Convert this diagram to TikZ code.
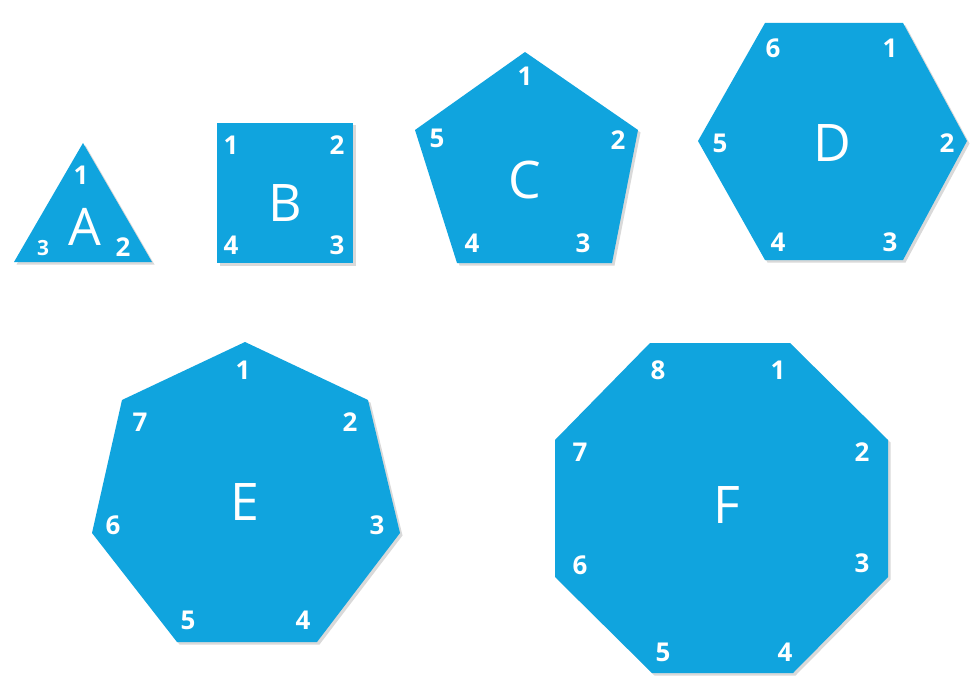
\documentclass[tikz,border=0pt]{standalone}
\usepackage{fontspec}
\setmainfont{Open Sans}
\usepackage{tikz}
\definecolor{tileblue}{RGB}{16,164,222}

\begin{document}
\begin{tikzpicture}[x=1bp,y=-1bp,
  tile/.style={fill=tileblue},
  tileshadow/.style={fill=black!15,xshift=2.5bp,yshift=-2.5bp},
  num/.style={text=white,font=\bfseries\fontsize{26}{26}\selectfont,inner sep=0pt},
  tilelabel/.style={text=white,font=\fontsize{52}{52}\selectfont,inner sep=0pt}]
  \useasboundingbox[fill=white] (0,0) rectangle (970,681);

  % A: triangle
  \fill[tileshadow] (83,143) -- (152,262) -- (14,262) -- cycle;
  \fill[tile] (83,143) -- (152,262) -- (14,262) -- cycle;
  \node[tilelabel] (A) at (85,227) {A};
  \node[num] (a1) at (81,175) {1};
  \node[num] (a2) at (123,247) {2};
  \node[num,font=\bfseries\fontsize{21}{21}\selectfont] (a3) at (43,248) {3};

  % B: square
  \fill[tileshadow] (217,123) rectangle (353,263);
  \fill[tile] (217,123) rectangle (353,263);
  \node[tilelabel] (B) at (285,203) {B};
  \node[num] (b1) at (231,145) {1};
  \node[num] (b2) at (337,145) {2};
  \node[num] (b3) at (337,245) {3};
  \node[num] (b4) at (231,245) {4};

  % C: pentagon
  \fill[tileshadow] (525,52) -- (638,130) -- (612,263) -- (457,263) -- (415,130) -- cycle;
  \fill[tile] (525,52) -- (638,130) -- (612,263) -- (457,263) -- (415,130) -- cycle;
  \node[tilelabel] (C) at (525,180) {C};
  \node[num] (c1) at (525,76) {1};
  \node[num] (c2) at (618,140) {2};
  \node[num] (c3) at (583,243) {3};
  \node[num] (c4) at (472,243) {4};
  \node[num] (c5) at (437,138) {5};

  % D: hexagon
  \fill[tileshadow] (765,23) -- (903,23) -- (967,141) -- (903,260) -- (765,260) -- (698,141) -- cycle;
  \fill[tile] (765,23) -- (903,23) -- (967,141) -- (903,260) -- (765,260) -- (698,141) -- cycle;
  \node[tilelabel] (D) at (832,143) {D};
  \node[num] (d1) at (890,48) {1};
  \node[num] (d2) at (947,143) {2};
  \node[num] (d3) at (890,242) {3};
  \node[num] (d4) at (778,242) {4};
  \node[num] (d5) at (720,143) {5};
  \node[num] (d6) at (773,48) {6};

  % E: heptagon
  \fill[tileshadow] (245,342) -- (368,400) -- (400,533) -- (317,642) -- (177,642) -- (92,533) -- (122,400) -- cycle;
  \fill[tile] (245,342) -- (368,400) -- (400,533) -- (317,642) -- (177,642) -- (92,533) -- (122,400) -- cycle;
  \node[tilelabel] (E) at (245,502) {E};
  \node[num] (e1) at (243,370) {1};
  \node[num] (e2) at (350,422) {2};
  \node[num] (e3) at (377,525) {3};
  \node[num] (e4) at (303,620) {4};
  \node[num] (e5) at (188,620) {5};
  \node[num] (e6) at (113,525) {6};
  \node[num] (e7) at (140,422) {7};

  % F: octagon
  \fill[tileshadow] (650,343) -- (790,343) -- (888,440) -- (888,577) -- (793,673) -- (652,673) -- (555,577) -- (555,440) -- cycle;
  \fill[tile] (650,343) -- (790,343) -- (888,440) -- (888,577) -- (793,673) -- (652,673) -- (555,577) -- (555,440) -- cycle;
  \node[tilelabel] (F) at (727,505) {F};
  \node[num] (f1) at (778,370) {1};
  \node[num] (f2) at (862,452) {2};
  \node[num] (f3) at (862,563) {3};
  \node[num] (f4) at (785,652) {4};
  \node[num] (f5) at (663,652) {5};
  \node[num] (f6) at (580,565) {6};
  \node[num] (f7) at (580,452) {7};
  \node[num] (f8) at (658,370) {8};
\end{tikzpicture}
\end{document}
